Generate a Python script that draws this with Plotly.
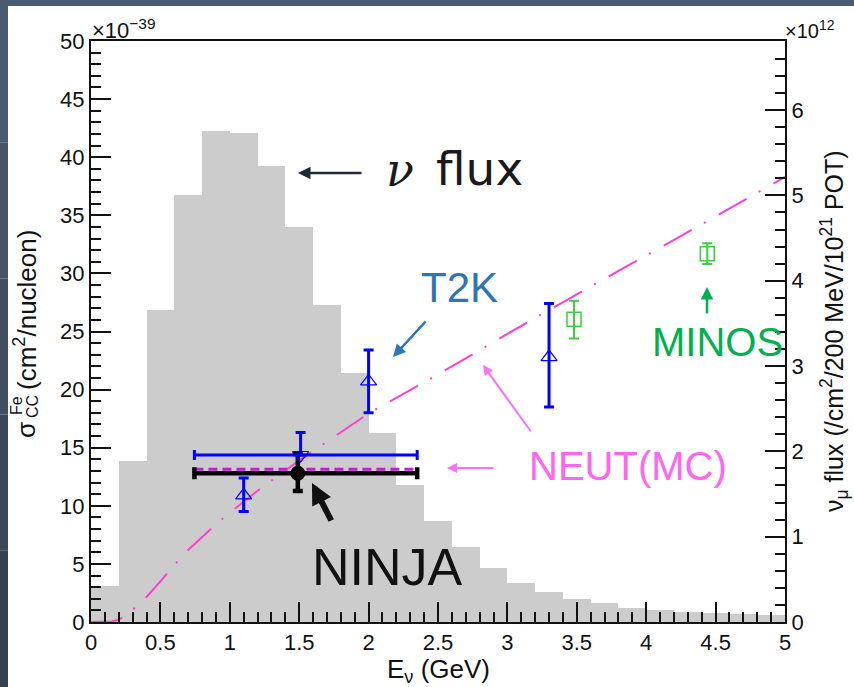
import plotly.graph_objects as go

# ---- data -------------------------------------------------------------
# nu_mu flux histogram (200 MeV bins), units of 1e12 /cm2/200MeV/1e21 POT
flux_e = [0.1, 0.3, 0.5, 0.7, 0.9, 1.1, 1.3, 1.5, 1.7, 1.9, 2.1, 2.3, 2.5,
          2.7, 2.9, 3.1, 3.3, 3.5, 3.7, 3.9, 4.1, 4.3, 4.5, 4.7, 4.9]
flux_val = [0.42, 1.89, 3.66, 5.01, 5.75, 5.73, 5.34, 4.63, 3.72, 2.92, 2.21,
            1.61, 1.18, 0.88, 0.63, 0.46, 0.35, 0.27, 0.22, 0.17, 0.14, 0.12,
            0.11, 0.09, 0.08]

# NEUT MC CC cross section on Fe (1e-39 cm2/nucleon)
neut_e = [0.0, 0.1, 0.15, 0.2, 0.25, 0.3, 0.4, 0.5, 0.6, 0.7, 0.8, 0.9, 1.0,
          1.2, 1.5, 1.8, 2.0, 2.35, 2.5, 2.83, 3.0, 3.5, 3.92, 4.0, 4.5, 5.0]
neut_sigma = [0.0, 0.0, 0.05, 0.2, 0.55, 1.05, 2.15, 3.5, 4.9, 6.2, 7.3, 8.4,
              9.4, 11.3, 13.9, 16.3, 17.95, 20.3, 21.3, 23.6, 24.8, 28.2,
              31.0, 31.5, 34.9, 38.3]

# NEUT flux-averaged prediction over the NINJA energy range
neut_avg_e = [0.745, 2.35]
neut_avg_sigma = [13.14, 13.14]

# NINJA measurement
ninja_e = [1.49]
ninja_sigma = [12.8]
ninja_e_lo = [0.745]
ninja_e_hi = [0.86]
ninja_err_hi = [1.66]
ninja_err_lo = [1.53]

# T2K INGRID measurements (energy-binned)
t2k_e = [1.1, 2.0, 3.3]
t2k_sigma = [10.9, 20.7, 22.8]
t2k_err_hi = [1.5, 2.7, 4.6]
t2k_err_lo = [1.4, 2.7, 4.3]

# T2K flux-averaged measurement
t2k_avg_e = [1.51]
t2k_avg_sigma = [14.37]
t2k_avg_e_lo = [0.765]
t2k_avg_e_hi = [0.84]
t2k_avg_err = [1.93]

# MINOS measurements
minos_e = [3.48, 4.44]
minos_sigma = [26.05, 31.7]
minos_err_hi = [1.6, 0.9]
minos_err_lo = [1.65, 0.9]

x_ticks = [0, 0.5, 1, 1.5, 2, 2.5, 3, 3.5, 4, 4.5, 5]

# ---- layout geometry (pixels) -----------------------------------------
WIDTH, HEIGHT = 854, 687
L, R, T, B = 91, 785, 41, 622
PW, PH = R - L, B - T


def px(x):
    return (x - L) / PW


def py(y):
    return (B - y) / PH


FONT = "Liberation Sans, Arial, Helvetica, sans-serif"
BLUE = "#0000ff"
GREEN_M = "#3ad13a"
PINK = "#ff3fd2"

fig = go.Figure()

# flux histogram on the right-hand axis
fig.add_trace(go.Bar(
    x=flux_e, y=flux_val, width=0.2, yaxis="y",
    marker=dict(color="#cccccc", line=dict(width=0)),
    hoverinfo="skip", showlegend=False,
))

# NEUT MC curve
fig.add_trace(go.Scatter(
    x=neut_e, y=neut_sigma, yaxis="y2", mode="lines",
    line=dict(color=PINK, width=2, dash="32px,14px,2px,15px"),
    showlegend=False,
))

# NEUT flux-averaged prediction
fig.add_trace(go.Scatter(
    x=neut_avg_e, y=neut_avg_sigma, yaxis="y2", mode="lines",
    line=dict(color="#c020d0", width=3, dash="9px,5px"),
    showlegend=False,
))

# T2K energy-binned points
fig.add_trace(go.Scatter(
    x=t2k_e, y=t2k_sigma, yaxis="y2", mode="markers",
    marker=dict(symbol="triangle-up-open", size=14, color=BLUE,
                line=dict(width=1.2, color=BLUE)),
    error_y=dict(type="data", array=t2k_err_hi, arrayminus=t2k_err_lo,
                 color=BLUE, thickness=3, width=5),
    showlegend=False,
))

# MINOS points
fig.add_trace(go.Scatter(
    x=minos_e, y=minos_sigma, yaxis="y2", mode="markers",
    marker=dict(symbol="square-open", size=14, color=GREEN_M,
                line=dict(width=1.5, color=GREEN_M)),
    error_y=dict(type="data", array=minos_err_hi, arrayminus=minos_err_lo,
                 color=GREEN_M, thickness=2, width=5),
    showlegend=False,
))

# NINJA measurement
fig.add_trace(go.Scatter(
    x=ninja_e, y=ninja_sigma, yaxis="y2", mode="markers",
    marker=dict(symbol="circle", size=15, color="black"),
    error_x=dict(type="data", array=ninja_e_hi, arrayminus=ninja_e_lo,
                 color="black", thickness=4.5, width=6),
    error_y=dict(type="data", array=ninja_err_hi, arrayminus=ninja_err_lo,
                 color="black", thickness=4.5, width=5),
    showlegend=False,
))

# T2K flux-averaged point (drawn last so its marker stays visible)
fig.add_trace(go.Scatter(
    x=t2k_avg_e, y=t2k_avg_sigma, yaxis="y2", mode="markers",
    marker=dict(symbol="triangle-down-open", size=14, color=BLUE,
                line=dict(width=1.2, color=BLUE)),
    error_x=dict(type="data", array=t2k_avg_e_hi, arrayminus=t2k_avg_e_lo,
                 color=BLUE, thickness=3, width=5),
    error_y=dict(type="data", array=t2k_avg_err, arrayminus=[0],
                 color=BLUE, thickness=3, width=5),
    showlegend=False,
))

axis_common = dict(
    showgrid=False, zeroline=False, showline=True, linecolor="#111111",
    linewidth=2, ticks="inside", ticklen=20, tickwidth=2, tickcolor="#111111",
    tickfont=dict(family=FONT, size=22, color="#111111"),
)

fig.update_layout(
    width=WIDTH, height=HEIGHT, autosize=False,
    margin=dict(l=L, r=WIDTH - R, t=T, b=HEIGHT - B, pad=0),
    paper_bgcolor="white", plot_bgcolor="white",
    showlegend=False, bargap=0,
    xaxis=dict(
        range=[0, 5], tickmode="array", tickvals=x_ticks,
        ticktext=[f"{v:g}" for v in x_ticks], mirror=True,
        minor=dict(dtick=0.1, tick0=0, ticks="inside", ticklen=10,
                   tickwidth=1.5, tickcolor="#111111"),
        **axis_common,
    ),
    yaxis=dict(
        range=[0, 6.81], side="right", anchor="x", dtick=1, tick0=0,
        minor=dict(dtick=0.2, tick0=0, ticks="inside", ticklen=10,
                   tickwidth=1.5, tickcolor="#111111"),
        **axis_common,
    ),
    yaxis2=dict(
        range=[0, 50], side="left", overlaying="y", anchor="x", dtick=5,
        tick0=0,
        minor=dict(dtick=1, tick0=0, ticks="inside", ticklen=10,
                   tickwidth=1.5, tickcolor="#111111"),
        **axis_common,
    ),
)

# slide frame: dark bands along the top and left edges
shapes = [
    dict(type="rect", xref="paper", yref="paper", x0=px(0), x1=px(WIDTH),
         y0=py(6), y1=py(0), fillcolor="#4a5a72", line=dict(width=0),
         layer="below"),
]
band_cols = ["#4a5a72", "#455469", "#404e62", "#3a475a", "#354152"]
seg = (HEIGHT - 6) / len(band_cols)
for i, c in enumerate(band_cols):
    shapes.append(dict(
        type="rect", xref="paper", yref="paper", x0=px(0), x1=px(8),
        y0=py(6 + (i + 1) * seg), y1=py(6 + i * seg), fillcolor=c,
        line=dict(width=0), layer="below"))
fig.update_layout(shapes=shapes)


def label(text, x, y, size, color="#111111", family=FONT, angle=0,
          xanchor="center", yanchor="middle"):
    fig.add_annotation(text=text, x=px(x), y=py(y), xref="paper",
                       yref="paper", showarrow=False, textangle=angle,
                       xanchor=xanchor, yanchor=yanchor,
                       font=dict(family=family, size=size, color=color))


def arrow(head, tail, color, width, size=1.0, head_style=2):
    fig.add_annotation(text="", x=px(head[0]), y=py(head[1]), xref="paper",
                       yref="paper", showarrow=True, ax=tail[0] - head[0],
                       ay=tail[1] - head[1], axref="pixel", ayref="pixel",
                       arrowhead=head_style, arrowwidth=width,
                       arrowsize=size, arrowcolor=color, standoff=0)


# axis titles
label("E<sub>ν</sub> (GeV)", 438, 670, 26)
label("σ", 26, 430, 26, angle=-90)
label("Fe", 16, 406, 16, angle=-90)
label("CC", 32, 406, 16, angle=-90)
label("(cm<sup>2</sup>/nucleon)", 25, 310, 26, angle=-90)
label("ν<sub>μ</sub> flux (/cm<sup>2</sup>/200 MeV/10<sup>21</sup> POT)",
      834, 331, 25, angle=-90)
label("×10<sup>−39</sup>", 90, 29, 22, xanchor="left")
label("×10<sup>12</sup>", 783, 29, 20, xanchor="left")

# callouts
label("<i>ν</i>", 400, 170, 46, color="#1a1a1a", family="DejaVu Serif")
label("flux", 434, 168, 47, color="#1a1a1a", family="DejaVu Sans",
      xanchor="left")
arrow((298, 173), (363, 173), "#222a38", 2.5)

label("T2K", 459, 287, 42, color="#2e75b6")
arrow((393, 357), (427, 320), "#2e75b6", 2.5)

label("MINOS", 717, 342, 40, color="#00b050")
arrow((707, 287), (707, 315), "#00b050", 2.5)

label("NEUT(MC)", 628, 466, 40, color="#ff66f0")
arrow((483, 365), (532, 433), "#ff70f0", 2)
arrow((447, 468), (495, 468), "#ff70f0", 2)

label("NINJA", 387, 567, 52, color="#111111")
arrow((312, 483), (332, 522), "#111111", 6, size=0.7)

fig.write_html("out.html")
